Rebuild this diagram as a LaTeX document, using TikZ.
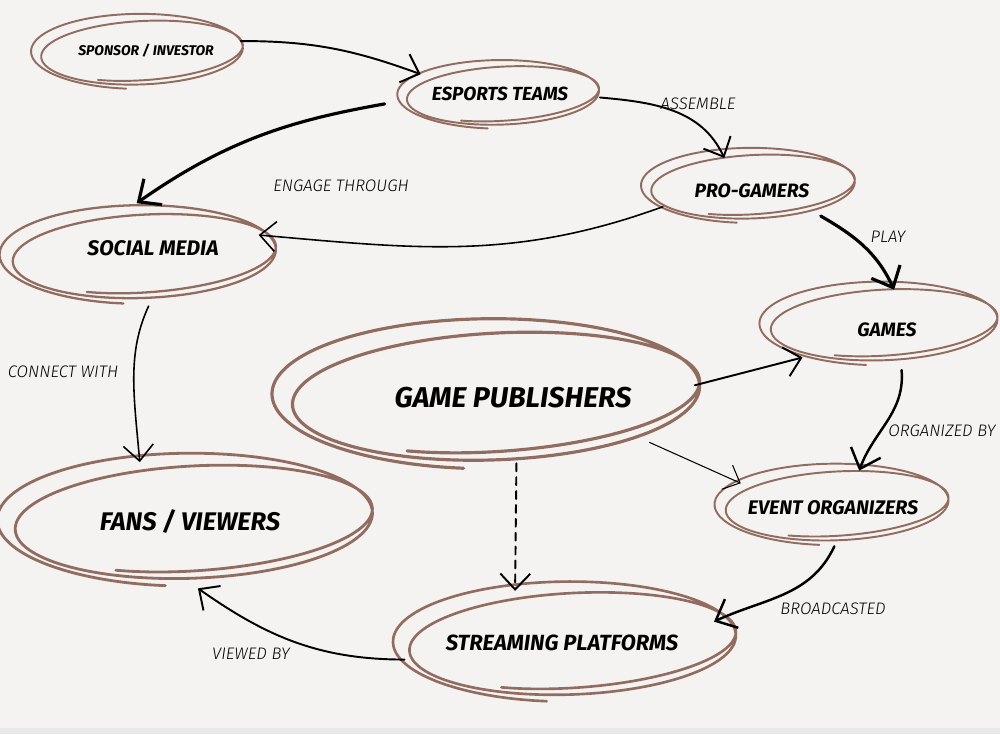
\documentclass[tikz,border=0pt]{standalone}
\usepackage{fontspec}
\setmainfont{Fira Sans}
\newfontfamily\lightfont{Fira Sans Light}
\usetikzlibrary{arrows.meta,shapes.geometric}

\definecolor{paper}{RGB}{245,243,241}
\definecolor{scrib}{RGB}{145,108,97}
\definecolor{band}{RGB}{233,233,233}

\tikzset{
  box/.style={ellipse, inner sep=0pt, font=\bfseries\itshape},
  lbl/.style={inner sep=1pt, font=\lightfont\itshape\fontsize{9.5}{11}\selectfont},
  loopline/.style={draw=scrib, line cap=round, line join=round},
  link/.style={line width=1.1pt, line cap=round, -{Straight Barb[length=9pt,width=17pt]}},
  thicklink/.style={line width=1.8pt, line cap=round, -{Straight Barb[length=10pt,width=18pt]}},
  thinlink/.style={line width=0.6pt, -{Straight Barb[length=8pt,width=15pt]}},
}

% hand drawn double loop round a node: name, dx, dy, rx, ry, width
\newcommand\scribble[6]{
\draw[loopline, line width=#6, shift={(#1.center)}]
  plot[domain=0:1, samples=180, smooth, variable=\t]
  ({#2 + 0.1*#4*(0.5-\t) + #4*(0.92+0.1*\t)*cos(240+745*\t)},
   {#3 - 0.08*#5*(0.5-\t) + #5*(0.78+0.34*\t)*sin(240+745*\t)
    + 0.08*(1-\t)*#4*(0.92+0.1*\t)*cos(240+745*\t)});
}

\begin{document}
\begin{tikzpicture}[x=0.02cm, y=0.02cm]
\fill[paper] (0,-734) rectangle (1000,0);
\fill[band] (0,-734) rectangle (1000,-728);
\useasboundingbox (0,-734) rectangle (1000,0);

% entities
\node[box, minimum width=4cm, minimum height=1.2cm, font=\bfseries\itshape\fontsize{8}{10}\selectfont] (spons) at (146,-51) {SPONSOR / INVESTOR};
\node[box, minimum width=4cm, minimum height=1.28cm, font=\bfseries\itshape\fontsize{10.8}{12}\selectfont] (teams) at (500,-94) {ESPORTS TEAMS};
\node[box, minimum width=4cm, minimum height=1.36cm, font=\bfseries\itshape\fontsize{11}{13}\selectfont] (pros) at (752,-191) {PRO-GAMERS};
\node[box, minimum width=4.4cm, minimum height=1.8cm, font=\bfseries\itshape\fontsize{12}{14}\selectfont] (social) at (153,-248) {SOCIAL MEDIA};
\node[box, minimum width=4.6cm, minimum height=1.6cm, font=\bfseries\itshape\fontsize{11}{13}\selectfont] (games) at (887,-330) {GAMES};
\node[box, minimum width=7.4cm, minimum height=2.6cm, font=\bfseries\itshape\fontsize{16.3}{19}\selectfont] (pubs) at (513,-398) {GAME PUBLISHERS};
\node[box, minimum width=4.4cm, minimum height=1.52cm, font=\bfseries\itshape\fontsize{11.2}{13}\selectfont] (events) at (833,-508) {EVENT ORGANIZERS};
\node[box, minimum width=7.2cm, minimum height=2.48cm, font=\bfseries\itshape\fontsize{14.5}{17}\selectfont] (fans) at (190,-522) {FANS / VIEWERS};
\node[box, minimum width=6.6cm, minimum height=2.16cm, font=\bfseries\itshape\fontsize{12.5}{15}\selectfont] (stream) at (562,-643) {STREAMING PLATFORMS};

\scribble{spons}{-5}{0}{105}{35}{1.1pt}
\scribble{teams}{2}{0}{100}{32}{1.1pt}
\scribble{pros}{0}{6}{106}{35}{1.1pt}
\scribble{social}{-10}{-6}{137}{46}{1.3pt}
\scribble{games}{-4}{7}{118}{39}{1.1pt}
\scribble{pubs}{-19}{5}{212}{70}{1.8pt}
\scribble{events}{3}{4}{116}{38}{1.1pt}
\scribble{fans}{2}{3}{186}{62}{1.6pt}
\scribble{stream}{9}{2}{170}{56}{1.5pt}

% labels
\node[lbl] (lblassemble) at (698,-104) {ASSEMBLE};
\node[lbl] (lblengage) at (341,-186) {ENGAGE THROUGH};
\node[lbl] (lblplay) at (888,-237) {PLAY};
\node[lbl] (lblconnect) at (63,-372) {CONNECT WITH};
\node[lbl] (lblorganized) at (942,-431) {ORGANIZED BY};
\node[lbl] (lblbroadcast) at (833,-609) {BROADCASTED};
\node[lbl] (lblviewed) at (251,-654) {VIEWED BY};

% links
\draw[link] (spons.6) to[out=0, in=160] (teams.166);
\draw[thicklink, shorten <=10pt] (teams.184) to[out=190, in=35] (social.110);
\draw[link] (teams.-2) to[out=-5, in=115] (pros.130);
\draw[link, line width=0.9pt] (pros.190) to[out=200, in=-5] (social.7);
\draw[thicklink] (pros.-20) to[out=-30, in=115] (games.80);
\draw[link, line width=0.9pt, shorten <=8pt] (social.-88) to[out=-115, in=95] (fans.130);
\draw[link] (pubs.4) -- (games.198);
\draw[thinlink] (pubs.-18) -- (events.165);
\draw[link, dash pattern=on 4.5pt off 3.4pt] (pubs.-87) -- (stream.132);
\draw[thicklink, line width=1.4pt] (games.-70) to[out=-85, in=70] (events.55);
\draw[thicklink, line width=1.4pt] (events.-88) to[out=-115, in=25] (stream.8);
\draw[link, shorten >=4pt] (stream.186) to[out=180, in=-35] (fans.-88);
\end{tikzpicture}
\end{document}
